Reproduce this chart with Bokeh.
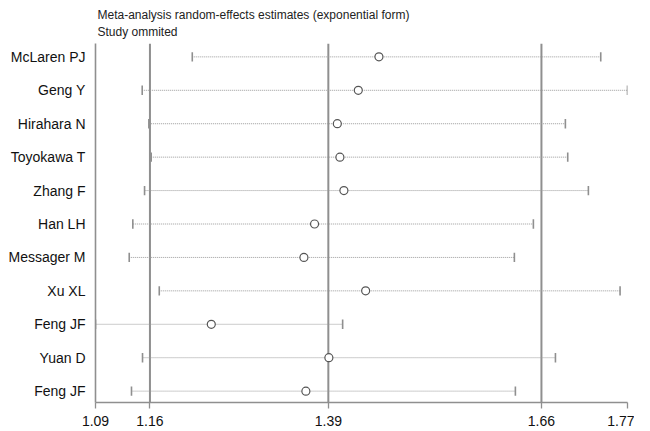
from bokeh.plotting import figure
from bokeh.models import FixedTicker, Range1d, Title
from bokeh.embed import file_html
from bokeh.resources import INLINE

studies = ["McLaren PJ", "Geng Y", "Hirahara N", "Toyokawa T", "Zhang F", "Han LH",
           "Messager M", "Xu XL", "Feng JF", "Yuan D", "Feng JF"]
estimate = [1.4523, 1.4259, 1.3991, 1.4024, 1.4075, 1.3700, 1.3564, 1.4353, 1.2380, 1.3883, 1.3589]
lower = [1.2137, 1.1497, 1.1582, 1.1612, 1.1527, 1.1377, 1.1331, 1.1715, 1.0900, 1.1501, 1.1360]
upper = [1.7358, 1.7700, 1.6906, 1.6936, 1.7200, 1.6497, 1.6254, 1.7605, 1.4059, 1.6779, 1.6267]
ref_lines = [1.1596, 1.3876, 1.6600]
tick_values = [1.09, 1.1596, 1.3876, 1.66, 1.77]
tick_labels = ["1.09", "1.16", "1.39", "1.66", "1.77"]

rows = list(range(1, len(studies) + 1))
y_top, y_bottom = 0.6, 11.34

p = figure(width=634, height=430, output_backend="svg", toolbar_location=None,
           x_range=Range1d(1.09, 1.77), y_range=Range1d(y_bottom, y_top),
           min_border_left=95, min_border_right=7, min_border_top=43, min_border_bottom=28)

p.title = Title(text="Meta-analysis random-effects estimates (exponential form)\nStudy ommited",
                align="left", offset=2, text_font_size="12px", text_font="Liberation Sans",
                text_font_style="normal", text_color="#222222", standoff=9, text_line_height=1.25)

p.outline_line_color = None
p.grid.visible = False
p.background_fill_color = "white"

# reference lines
p.segment(x0=ref_lines, x1=ref_lines, y0=[y_top] * 3, y1=[y_bottom] * 3,
          line_color="#8f8f8f", line_width=2)

# dotted CIs
p.segment(x0=lower, x1=upper, y0=rows, y1=rows, line_color="#9a9a9a",
          line_width=1, line_dash="1 1")

# caps
cap = 0.14
p.segment(x0=lower, x1=lower, y0=[r - cap for r in rows], y1=[r + cap for r in rows],
          line_color="#8f8f8f", line_width=1.6)
p.segment(x0=upper, x1=upper, y0=[r - cap for r in rows], y1=[r + cap for r in rows],
          line_color="#8f8f8f", line_width=1.6)

# estimates
p.scatter(x=estimate, y=rows, marker="circle", size=8, fill_color="white",
          line_color="#555555", line_width=1.2)

# x axis
xa = p.xaxis[0]
xa.ticker = FixedTicker(ticks=tick_values)
xa.major_label_overrides = {v: l for v, l in zip(tick_values, tick_labels)}
xa.axis_line_color = "#8f8f8f"
xa.axis_line_width = 1.6
xa.major_tick_line_color = "#8f8f8f"
xa.major_tick_line_width = 1.3
xa.major_tick_out = 6
xa.major_tick_in = 0
xa.minor_tick_line_color = None
xa.major_label_text_font = "Liberation Sans"
xa.major_label_text_font_size = "14px"
xa.major_label_text_color = "#111111"
xa.major_label_standoff = 7

# y axis
ya = p.yaxis[0]
ya.ticker = FixedTicker(ticks=rows)
ya.major_label_overrides = {r: s for r, s in zip(rows, studies)}
ya.axis_line_color = "#8f8f8f"
ya.axis_line_width = 1.6
ya.major_tick_line_color = None
ya.major_tick_out = 0
ya.major_tick_in = 0
ya.minor_tick_line_color = None
ya.major_label_text_font = "Liberation Sans"
ya.major_label_text_font_size = "14px"
ya.major_label_text_color = "#111111"
ya.major_label_standoff = 10

open("out.html", "w").write(file_html(p, INLINE))
